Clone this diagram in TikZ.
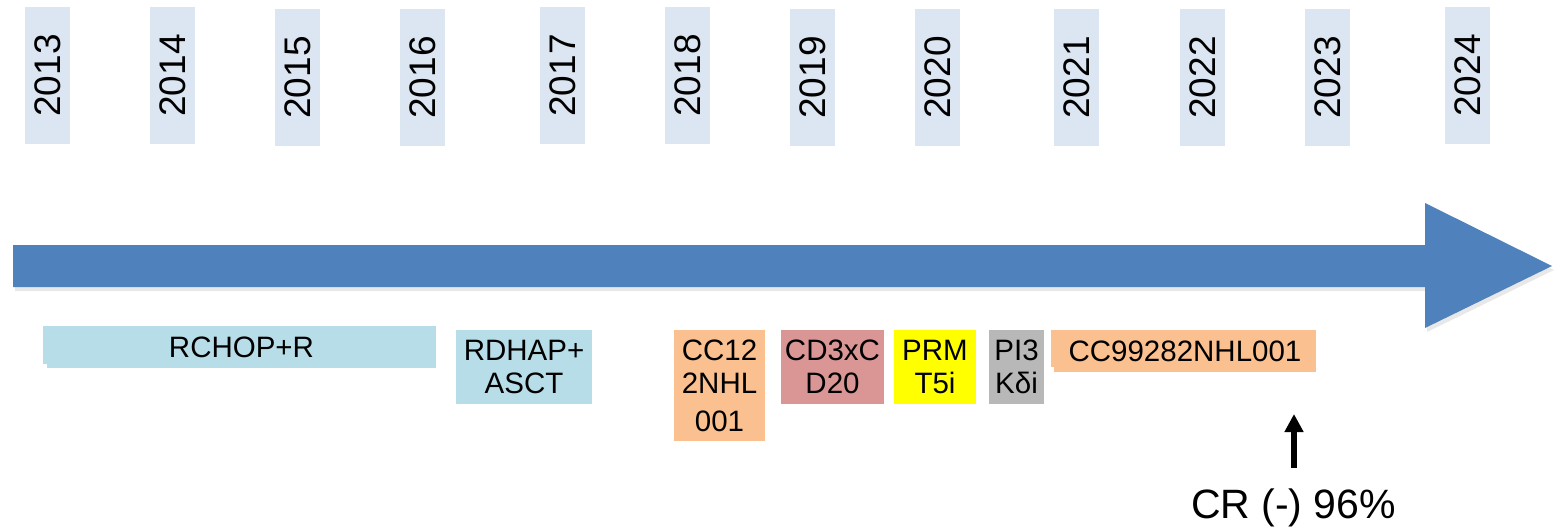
\documentclass[tikz,border=0pt]{standalone}
\usepackage{fontspec}
\setmainfont{Liberation Sans}
\usetikzlibrary{shadows,arrows.meta}
\definecolor{yearbg}{HTML}{DCE6F2}
\definecolor{mainblue}{HTML}{4F81BD}
\definecolor{ltblue}{HTML}{B7DDE8}
\definecolor{peach}{HTML}{FAC090}
\definecolor{rose}{HTML}{D99694}
\definecolor{greybox}{HTML}{B8B8B8}
\definecolor{yel}{HTML}{FFFF00}
\begin{document}
\begin{tikzpicture}[x=1pt,y=-1pt,
  yearbox/.style={fill=yearbg, rotate=90, minimum width=137pt, minimum height=45pt,
    inner sep=0pt, font=\fontsize{37}{40}\selectfont},
  tbox/.style={inner sep=0pt, align=center, font=\fontsize{29.5}{33}\selectfont},
  softshadow/.style={drop shadow={opacity=0.18, shadow xshift=2pt, shadow yshift=-4pt}}
]
\useasboundingbox (0,0) rectangle (1560,528);

% year labels
\node[yearbox] (y2013) at (47.5,75.5) {2013};
\node[yearbox] (y2014) at (172.5,75.5) {2014};
\node[yearbox] (y2015) at (297.5,77.5) {2015};
\node[yearbox] (y2016) at (422.5,77.5) {2016};
\node[yearbox] (y2017) at (562.5,75.5) {2017};
\node[yearbox] (y2018) at (687.5,75.5) {2018};
\node[yearbox] (y2019) at (812.5,77.5) {2019};
\node[yearbox] (y2020) at (937.5,77.5) {2020};
\node[yearbox] (y2021) at (1076.5,77.5) {2021};
\node[yearbox] (y2022) at (1202.5,77.5) {2022};
\node[yearbox] (y2023) at (1327.5,77.5) {2023};
\node[yearbox] (y2024) at (1467.5,75.5) {2024};

% main timeline arrow
\fill[mainblue, softshadow] (13,245) -- (1425,245) -- (1425,203) -- (1552,266)
  -- (1425,328) -- (1425,287) -- (13,287) -- cycle;

% therapy boxes
\fill[ltblue] (43,326) rectangle (47,364);
\node[tbox, fill=ltblue, minimum width=389pt, minimum height=42pt] (rchop) at (241.5,347) {RCHOP+R};
\node[tbox, fill=ltblue, minimum width=136pt, minimum height=74pt] (rdhap) at (524,367) {RDHAP+\\ASCT};
\node[tbox, fill=peach, minimum width=91pt, minimum height=111pt] (cc122) at (719.5,385.5) {CC12\\2NHL\\[5pt]001};
\node[tbox, fill=rose, minimum width=103pt, minimum height=74pt] (cd3) at (832.5,367) {CD3xC\\D20};
\node[tbox, fill=yel, minimum width=82pt, minimum height=74pt] (prmt) at (935,367) {PRM\\T5i};
\node[tbox, fill=greybox, minimum width=55pt, minimum height=74pt] (pi3k) at (1016.5,367) {PI3\\Kδi};
\fill[peach] (1051,330) rectangle (1055,367);
\node[tbox, fill=peach, minimum width=262pt, minimum height=42pt] (cc99) at (1185,351) {CC99282NHL001};

% response arrow and label
\coordinate (crtail) at (1294,468);
\coordinate (crtip) at (1294,414);
\draw[line width=6pt, -{Triangle[width=18pt,length=18pt]}] (crtail) -- (crtip);
\node[anchor=base, inner sep=0pt, font=\fontsize{41}{44}\selectfont] (cr) at (1293.5,518) {CR (-) 96\%};
\end{tikzpicture}
\end{document}
